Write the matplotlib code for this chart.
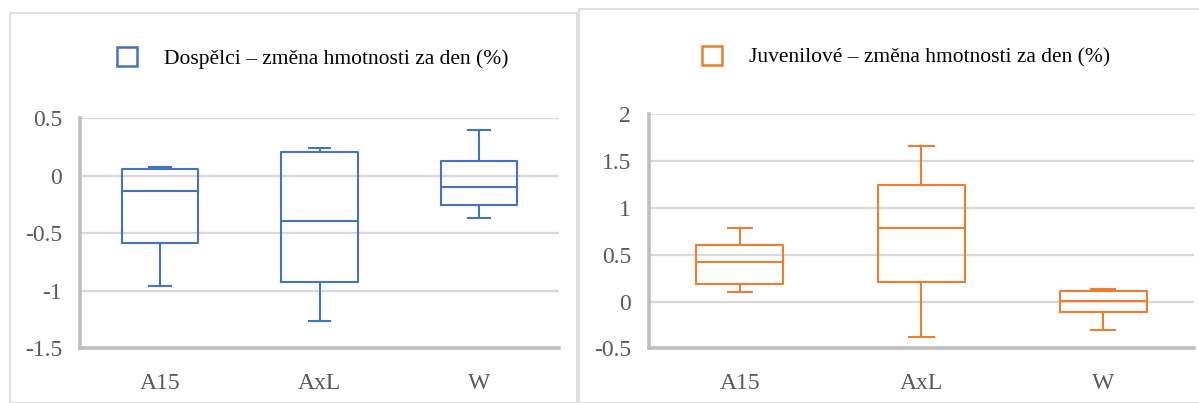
import matplotlib
matplotlib.use("Agg")
import matplotlib.pyplot as plt
from matplotlib.patches import Patch, Rectangle

plt.rcParams['font.family'] = ['Liberation Serif', 'DejaVu Serif']
plt.rcParams['axes.unicode_minus'] = False

categories = ['A15', 'AxL', 'W']

# adults: whisker low, q1, median, q3, whisker high
adult_low = [-0.955, -1.26, -0.365]
adult_q1 = [-0.585, -0.925, -0.257]
adult_med = [-0.133, -0.39, -0.093]
adult_q3 = [0.06, 0.205, 0.127]
adult_high = [0.075, 0.24, 0.40]

# juveniles
juv_low = [0.10, -0.38, -0.30]
juv_q1 = [0.185, 0.21, -0.107]
juv_med = [0.42, 0.78, 0.01]
juv_q3 = [0.605, 1.24, 0.115]
juv_high = [0.78, 1.66, 0.13]

adult_label = 'Dospělci – změna hmotnosti za den (%)'
juv_label = 'Juvenilové – změna hmotnosti za den (%)'

blue = '#4472C4'
orange = '#ED7D31'
grid_c = '#D9D9D9'
axis_c = '#BFBFBF'
text_c = '#595959'
FS = 17
LEG_FS = 15.5


def make_stats(low, q1, med, q3, high):
    return [dict(whislo=low[i], q1=q1[i], med=med[i], q3=q3[i], whishi=high[i],
                 label=categories[i], fliers=[]) for i in range(len(categories))]


def draw_panel(ax, stats, color, ylim, yticks):
    props = dict(color=color, linewidth=1.5)
    ax.bxp(stats, positions=range(len(stats)), widths=0.48, capwidths=0.135,
           boxprops=props, medianprops=props, whiskerprops=props, capprops=props,
           showfliers=False, manage_ticks=False, zorder=3)
    ax.set_xlim(-0.5, len(stats) - 0.5)
    ax.set_ylim(*ylim)
    ax.set_yticks(yticks)
    ax.set_yticklabels([f'{t:g}' for t in yticks])
    ax.set_xticks(range(len(stats)))
    ax.set_xticklabels(categories)
    ax.grid(axis='y', color=grid_c, linewidth=1.6, zorder=0)
    ax.set_axisbelow(True)
    for s in ['top', 'right']:
        ax.spines[s].set_visible(False)
    for s in ['left', 'bottom']:
        ax.spines[s].set_color(axis_c)
        ax.spines[s].set_linewidth(2.6)
    ax.tick_params(axis='y', length=0, pad=13, labelsize=FS, labelcolor=text_c)
    ax.tick_params(axis='x', length=0, pad=18, labelsize=FS, labelcolor=text_c)


fig = plt.figure(figsize=(11.99, 4.03), dpi=100)
W, H = 1199, 403

# panel frames
fig.patches.append(Rectangle((10.5 / W, 0), (577 - 10.5) / W, 1 - 12.5 / H,
                             transform=fig.transFigure, fill=False,
                             edgecolor=grid_c, linewidth=1.2))
fig.patches.append(Rectangle((579 / W, 0), (1205 - 579) / W, 1 - 9 / H,
                             transform=fig.transFigure, fill=False,
                             edgecolor=grid_c, linewidth=1.2))

ax1 = fig.add_axes([80 / W, 1 - 348.3 / H, (559 - 80) / W, (348.3 - 118.4) / H])
ax2 = fig.add_axes([649 / W, 1 - 348.3 / H, (1194 - 649) / W, (348.3 - 114.3) / H])

draw_panel(ax1, make_stats(adult_low, adult_q1, adult_med, adult_q3, adult_high),
           blue, (-1.5, 0.5), [-1.5, -1, -0.5, 0, 0.5])
draw_panel(ax2, make_stats(juv_low, juv_q1, juv_med, juv_q3, juv_high),
           orange, (-0.5, 2), [-0.5, 0, 0.5, 1, 1.5, 2])

for label, color, cx, cy in [(adult_label, blue, 313 / W, 1 - 58 / H),
                             (juv_label, orange, 906 / W, 1 - 57 / H)]:
    handle = Patch(facecolor='white', edgecolor=color, linewidth=1.8)
    fig.legend(handles=[handle], labels=[label], loc='center',
               bbox_to_anchor=(cx, cy), frameon=False, fontsize=LEG_FS,
               handlelength=0.93, handleheight=0.93, handletextpad=1.25,
               borderpad=0, borderaxespad=0)

fig.savefig('out.png', dpi=100)
